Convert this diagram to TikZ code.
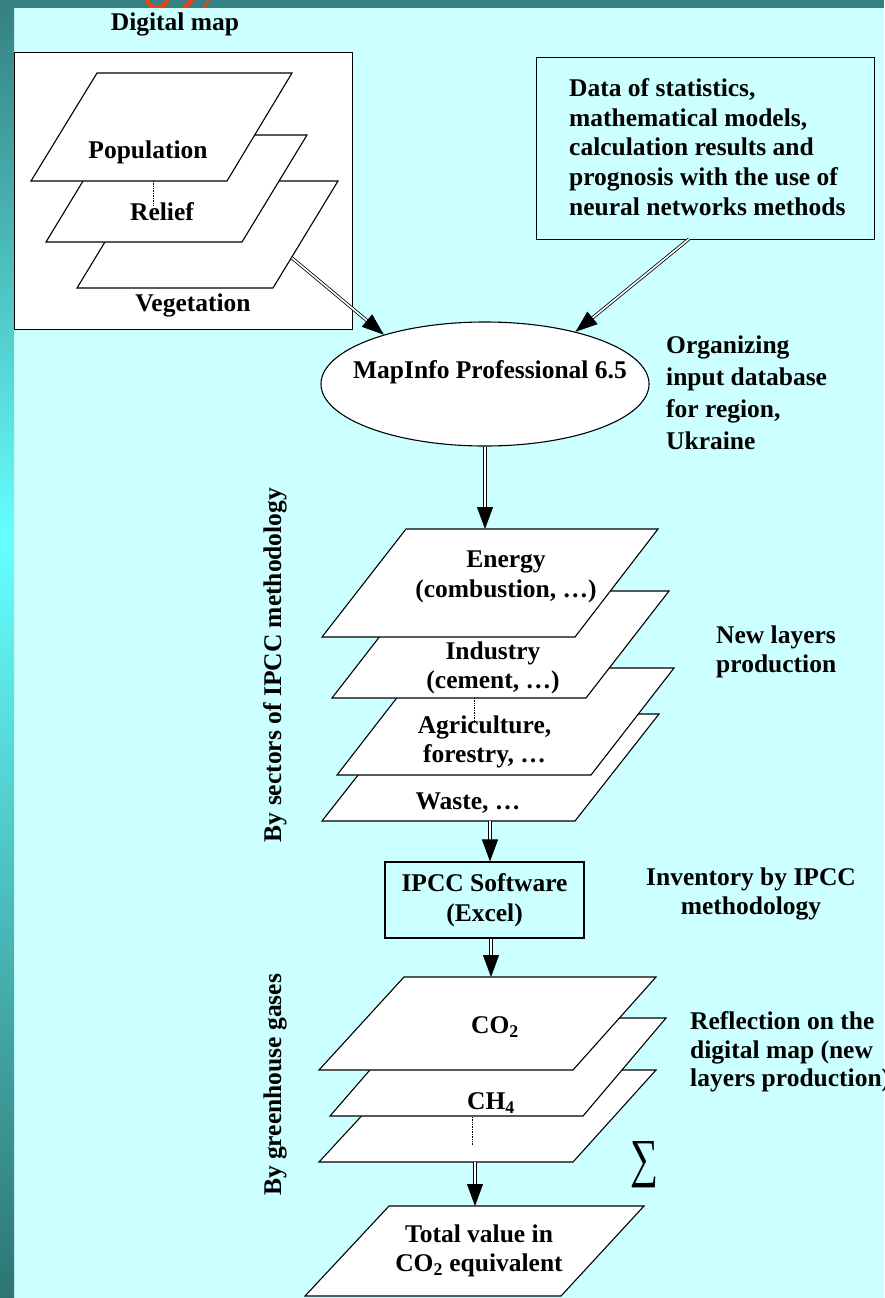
\documentclass[tikz,border=0pt]{standalone}
\usepackage{fontspec}
\setmainfont{Liberation Serif}
\usepackage{graphicx}
\usetikzlibrary{arrows.meta,shapes.geometric}
\definecolor{bgc}{HTML}{CCFFFF}
\definecolor{tealA}{HTML}{358080}
\definecolor{cyanB}{HTML}{66FFFF}
\definecolor{tealC}{HTML}{2E7474}
\definecolor{logored}{HTML}{FF3A10}
\tikzset{
  txt/.style={font=\fontsize{25.5}{29.7}\selectfont\bfseries, inner sep=0pt},
  layer/.style={draw=black, fill=white, line width=1.1pt, line join=miter},
  dbl/.style={draw=black, line width=0.8pt, double=white, double distance=1.6pt, -{Triangle[length=22pt,width=16pt]}},
  boxst/.style={draw=black, line width=1.1pt},
  dotline/.style={densely dotted, line width=0.7pt}
}
\begin{document}
\begin{tikzpicture}[x=1pt,y=-1pt]
\useasboundingbox (0,0) rectangle (884,1298);
% background
\fill[bgc] (0,0) rectangle (884,1298);
\fill[tealA] (0,0) rectangle (884,8);
\shade[top color=tealA,bottom color=cyanB] (0,0) rectangle (14,540);
\shade[top color=cyanB,bottom color=tealC] (0,540) rectangle (14,1298);
% clipped red logo
\begin{scope}
  \clip (0,0) rectangle (884,8);
  \draw[logored, line width=3.5pt] (157,0) ellipse [x radius=10, y radius=7];
  \draw[logored, line width=4pt] (183,9) -- (196,-4);
  \draw[logored, line width=2pt] (202,9) -- (212,-4);
\end{scope}

% digital map
\node[txt] (dmlabel) at (175,24) {Digital map};
\node[boxst, fill=white, minimum width=338, minimum height=277, anchor=north west] (mapbox) at (14,52) {};
\draw[layer] (77,288) -- (273,288) -- (338,181) -- (142,181) -- cycle;
\draw[layer] (46,242) -- (242,242) -- (307,135) -- (111,135) -- cycle;
\draw[layer] (31,181) -- (227,181) -- (292,73) -- (97,73) -- cycle;
\draw[dotline] (153,181) -- (153,205);
\node[txt] (population) at (148,152) {Population};
\node[txt] (relief) at (162,212) {Relief};
\node[txt] (vegetation) at (193,305) {Vegetation};

% data box
\node[boxst, minimum width=338, minimum height=182, anchor=north west] (databox) at (536,57) {};
\node[txt, align=left, anchor=west] (datatext) at (569,147) {Data of statistics,\\mathematical models,\\calculation results and\\prognosis with the use of\\neural networks methods};

% GIS ellipse
\node[ellipse, draw=black, fill=white, line width=1.1pt, minimum width=328, minimum height=124] (gis) at (485,384) {};
\node[txt] (gistext) at (490,372) {MapInfo Professional 6.5};
\node[txt, align=left, anchor=west, font=\fontsize{25.5}{32}\selectfont\bfseries] (orgtext) at (666,393) {Organizing\\input database\\for region,\\Ukraine};

\coordinate (veg-r) at (292,258);
\coordinate (data-b) at (689,239);
\draw[dbl] (veg-r) -- (gis.154);
\draw[dbl] (data-b) -- (gis.30);

% sector layers
\draw[layer] (322,821) -- (575,821) -- (659,714) -- (406,714) -- cycle;
\draw[layer] (337,775) -- (591,775) -- (674,668) -- (420,668) -- cycle;
\draw[layer] (332,698) -- (586,698) -- (669,591) -- (415,591) -- cycle;
\draw[layer] (322,637) -- (575,637) -- (658,529) -- (406,529) -- cycle;
\draw[dotline] (474,698) -- (474,723);
\node[txt, align=center] (energy) at (506,577) {Energy\\(combustion, …)};
\node[txt, align=center] (industry) at (493,668) {Industry\\(cement, …)};
\node[txt, align=center] (agri) at (484.5,742) {Agriculture,\\forestry, …};
\node[txt] (waste) at (468,803) {Waste, …};
\node[txt, align=left, anchor=west] (newlayers) at (716,652) {New layers\\production};
\node[txt, rotate=90] (sectlabel) at (275,665) {By sectors of IPCC methodology};

\coordinate (energy-t) at (485,529);
\draw[dbl] (gis.south) -- (energy-t);

% IPCC software
\node[boxst, txt, align=center, minimum width=199, minimum height=76] (ipcc) at (484.5,900) {IPCC Software\\(Excel)};
\node[txt, align=center] (inventory) at (751,894) {Inventory by IPCC\\methodology};
\coordinate (waste-b) at (490,821);
\draw[dbl] (waste-b) -- (waste-b |- ipcc.north);
\coordinate (co2-t) at (491,977);
\draw[dbl] (ipcc.south -| co2-t) -- (co2-t);

% gas layers
\draw[layer] (319,1162) -- (573,1162) -- (656,1070) -- (404,1070) -- cycle;
\draw[layer] (330,1116) -- (583,1116) -- (666,1018) -- (415,1018) -- cycle;
\draw[layer] (319,1070) -- (573,1070) -- (656,977) -- (404,977) -- cycle;
\draw[dotline] (472,1117) -- (472,1145);
\node[txt] (co2) at (495,1027) {CO\textsubscript{2}};
\node[txt] (ch4) at (491,1103) {CH\textsubscript{4}};
\node[txt, align=left, anchor=west, font=\fontsize{25.5}{28.5}\selectfont\bfseries] (reflection) at (690,1052) {Reflection on the\\digital map (new\\layers production)};
\node[txt, rotate=90] (gaslabel) at (275,1085) {By greenhouse gases};
\node[inner sep=0pt] (sigma) at (644,1165) {\resizebox{28pt}{35pt}{\fontsize{40}{40}\selectfont ∑}};

% total
\draw[layer] (305,1296) -- (561,1296) -- (644,1206) -- (389,1206) -- cycle;
\node[txt, align=center] (total) at (479,1251) {Total value in\\CO\textsubscript{2} equivalent};
\coordinate (gas-b) at (475,1162);
\coordinate (total-t) at (475,1206);
\draw[dbl] (gas-b) -- (total-t);
\end{tikzpicture}
\end{document}
